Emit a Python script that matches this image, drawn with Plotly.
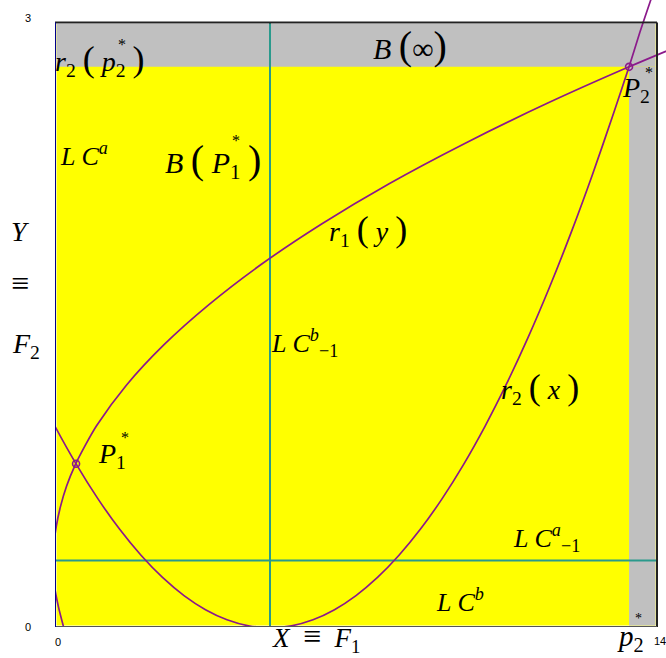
import plotly.graph_objects as go

# Reaction curve r1(y): x as a function of y
r1_y = [0.00, 0.10, 0.20, 0.30, 0.40, 0.50, 0.60, 0.70, 0.80, 0.90, 1.00, 1.20,
        1.40, 1.60, 1.80, 2.00, 2.20, 2.40, 2.60, 2.78, 2.90]
r1_x = [0.20, 0.08, -0.01, -0.04, -0.03, 0.03, 0.13, 0.27, 0.46, 0.70, 0.97, 1.66,
        2.53, 3.58, 4.80, 6.20, 7.77, 9.53, 11.46, 13.35, 14.69]

# Reaction curve r2(x): y as a function of x
r2_x = [-0.5, 0.0, 0.5, 1.0, 1.5, 2.0, 2.5, 3.0, 3.5, 4.0, 4.5, 5.0, 5.5, 6.0,
        6.5, 7.0, 7.5, 8.0, 8.5, 9.0, 9.5, 10.0, 10.5, 11.0, 11.5, 12.0, 12.5,
        13.0, 13.35, 13.6, 13.9]
r2_y = [1.206, 0.996, 0.806, 0.636, 0.486, 0.356, 0.246, 0.156, 0.086, 0.036,
        0.006, -0.004, 0.006, 0.036, 0.086, 0.156, 0.246, 0.356, 0.486, 0.636,
        0.806, 0.996, 1.206, 1.436, 1.686, 1.956, 2.246, 2.556, 2.78, 2.95, 3.14]

# Fixed points
eq_x = [0.49, 13.35]
eq_y = [0.81, 2.78]

# Critical lines
lc_x = 5.0
lc_y = 0.33

# Domain and escape boundary
x_max, y_max = 14, 3
p2_star = 13.35
r2_p2_star = 2.78

tick_labels = {"y_top": "3", "y_bottom": "0", "x_left": "0", "x_right": "14"}

# pixel geometry of the plot area (left 55, bottom 627, 611 x 627 px)
PX_X = 43.0
PX_Y = 201.5

PURPLE = "#8b1a8b"
TEAL = "#2a9a8c"
SERIF = "Liberation Serif"

fig = go.Figure()

fig.add_trace(go.Scatter(x=r1_x, y=r1_y, mode="lines",
                         line=dict(color=PURPLE, width=1.7, shape="spline", smoothing=0.8),
                         hoverinfo="skip", showlegend=False))
fig.add_trace(go.Scatter(x=r2_x, y=r2_y, mode="lines",
                         line=dict(color=PURPLE, width=1.7, shape="spline", smoothing=0.8),
                         hoverinfo="skip", showlegend=False))
fig.add_trace(go.Scatter(x=eq_x, y=eq_y, mode="markers",
                         marker=dict(symbol="circle-open", size=7, color=PURPLE,
                                     line=dict(width=1.6, color=PURPLE)),
                         hoverinfo="skip", showlegend=False, cliponaxis=False))

gx = 0.035   # inset of the fill inside the frame (x units)
gy = 0.008   # inset of the fill inside the frame (y units)
shapes = [
    # yellow basin
    dict(type="rect", x0=gx, x1=x_max - gx, y0=gy, y1=y_max - gy,
         fillcolor="#ffff00", line_width=0, layer="below"),
    # gray: basin of infinity (top and right strips)
    dict(type="rect", x0=gx, x1=x_max - gx, y0=r2_p2_star, y1=y_max - gy,
         fillcolor="#c0c0c0", line_width=0, layer="below"),
    dict(type="rect", x0=p2_star, x1=x_max - gx, y0=gy, y1=r2_p2_star,
         fillcolor="#c0c0c0", line_width=0, layer="below"),
    # critical lines
    dict(type="line", x0=lc_x, x1=lc_x, y0=0, y1=y_max,
         line=dict(color=TEAL, width=2), layer="below"),
    dict(type="line", x0=0, x1=x_max, y0=lc_y, y1=lc_y,
         line=dict(color=TEAL, width=2), layer="below"),
    # frame
    dict(type="line", x0=0, x1=x_max, y0=y_max, y1=y_max,
         line=dict(color="#222222", width=2)),
    dict(type="line", x0=x_max, x1=x_max, y0=0, y1=y_max,
         line=dict(color="#222222", width=2)),
    dict(type="line", x0=0, x1=x_max, y0=0, y1=0,
         line=dict(color="#555555", width=2)),
    dict(type="line", x0=0, x1=0, y0=0, y1=y_max,
         line=dict(color="#00008b", width=2)),
]

BIG = "<span style='font-size:40px'>"
MID = "<span style='font-size:36px'>"
annotations = []


def label(px, py, text, size=26, family=SERIF):
    annotations.append(dict(x=(px - 55) / 611, y=(627 - py) / 627,
                            xref="paper", yref="paper", text=text,
                            showarrow=False, xanchor="center", yanchor="middle",
                            font=dict(family=family, size=size, color="black")))


label(410, 46, "<i>B</i> " + BIG + "(</span>∞" + BIG + ")</span>", 30)
label(100, 60, "<i>r</i><sub>2</sub> " + MID + "(</span> <i>p</i><sub>2</sub> " + MID + ")</span>", 28)
label(122, 44, "*", 16)
label(84, 154, "<i>L C<sup>a</sup></i>", 26)
label(213, 160, "<i>B</i> " + BIG + "(</span> <i>P</i><sub>1</sub> " + BIG + ")</span>", 30)
label(236, 141, "*", 16)
label(368, 230, "<i>r</i><sub>1</sub> " + MID + "(</span> <i>y</i> " + MID + ")</span>", 28)
label(304, 343, "<i>L C</i><sup><i>b</i></sup><sub>−1</sub>", 26)
label(540, 388, "<i>r</i><sub>2</sub> " + MID + "(</span> <i>x</i> " + MID + ")</span>", 28)
label(112, 455, "<i>P</i><sub>1</sub>", 28)
label(125, 437, "*", 16)
label(636, 90, "<i>P</i><sub>2</sub>", 28)
label(649, 72, "*", 16)
label(546, 538, "<i>L C</i><sup><i>a</i></sup><sub>−1</sub>", 26)
label(460, 600, "<i>L C<sup>b</sup></i>", 26)
label(316, 637, "<i>X</i>  " + "<span style='font-size:32px'>≡</span>" + "  <i>F</i><sub>1</sub>", 27)
label(630, 638, "<i>p</i><sub>2</sub>", 29)
label(638, 618, "*", 14)
label(20, 232, "<i>Y</i>", 28)
label(20, 283, "<span style='font-size:32px'>≡</span>", 28)
label(26, 345, "<i>F</i><sub>2</sub>", 28)

# tick labels
label(28, 18, tick_labels["y_top"], 11, "Liberation Sans")
label(28, 627, tick_labels["y_bottom"], 11, "Liberation Sans")
label(58, 642, tick_labels["x_left"], 11, "Liberation Sans")
label(660, 641, tick_labels["x_right"], 11, "Liberation Sans")

fig.update_layout(
    width=666, height=658,
    margin=dict(l=55, r=0, t=0, b=31),
    paper_bgcolor="white", plot_bgcolor="white",
    xaxis=dict(range=[0, 611 / PX_X], visible=False, fixedrange=True),
    yaxis=dict(range=[0, 627 / PX_Y], visible=False, fixedrange=True),
    shapes=shapes, annotations=annotations,
)

fig.write_html("out.html")
